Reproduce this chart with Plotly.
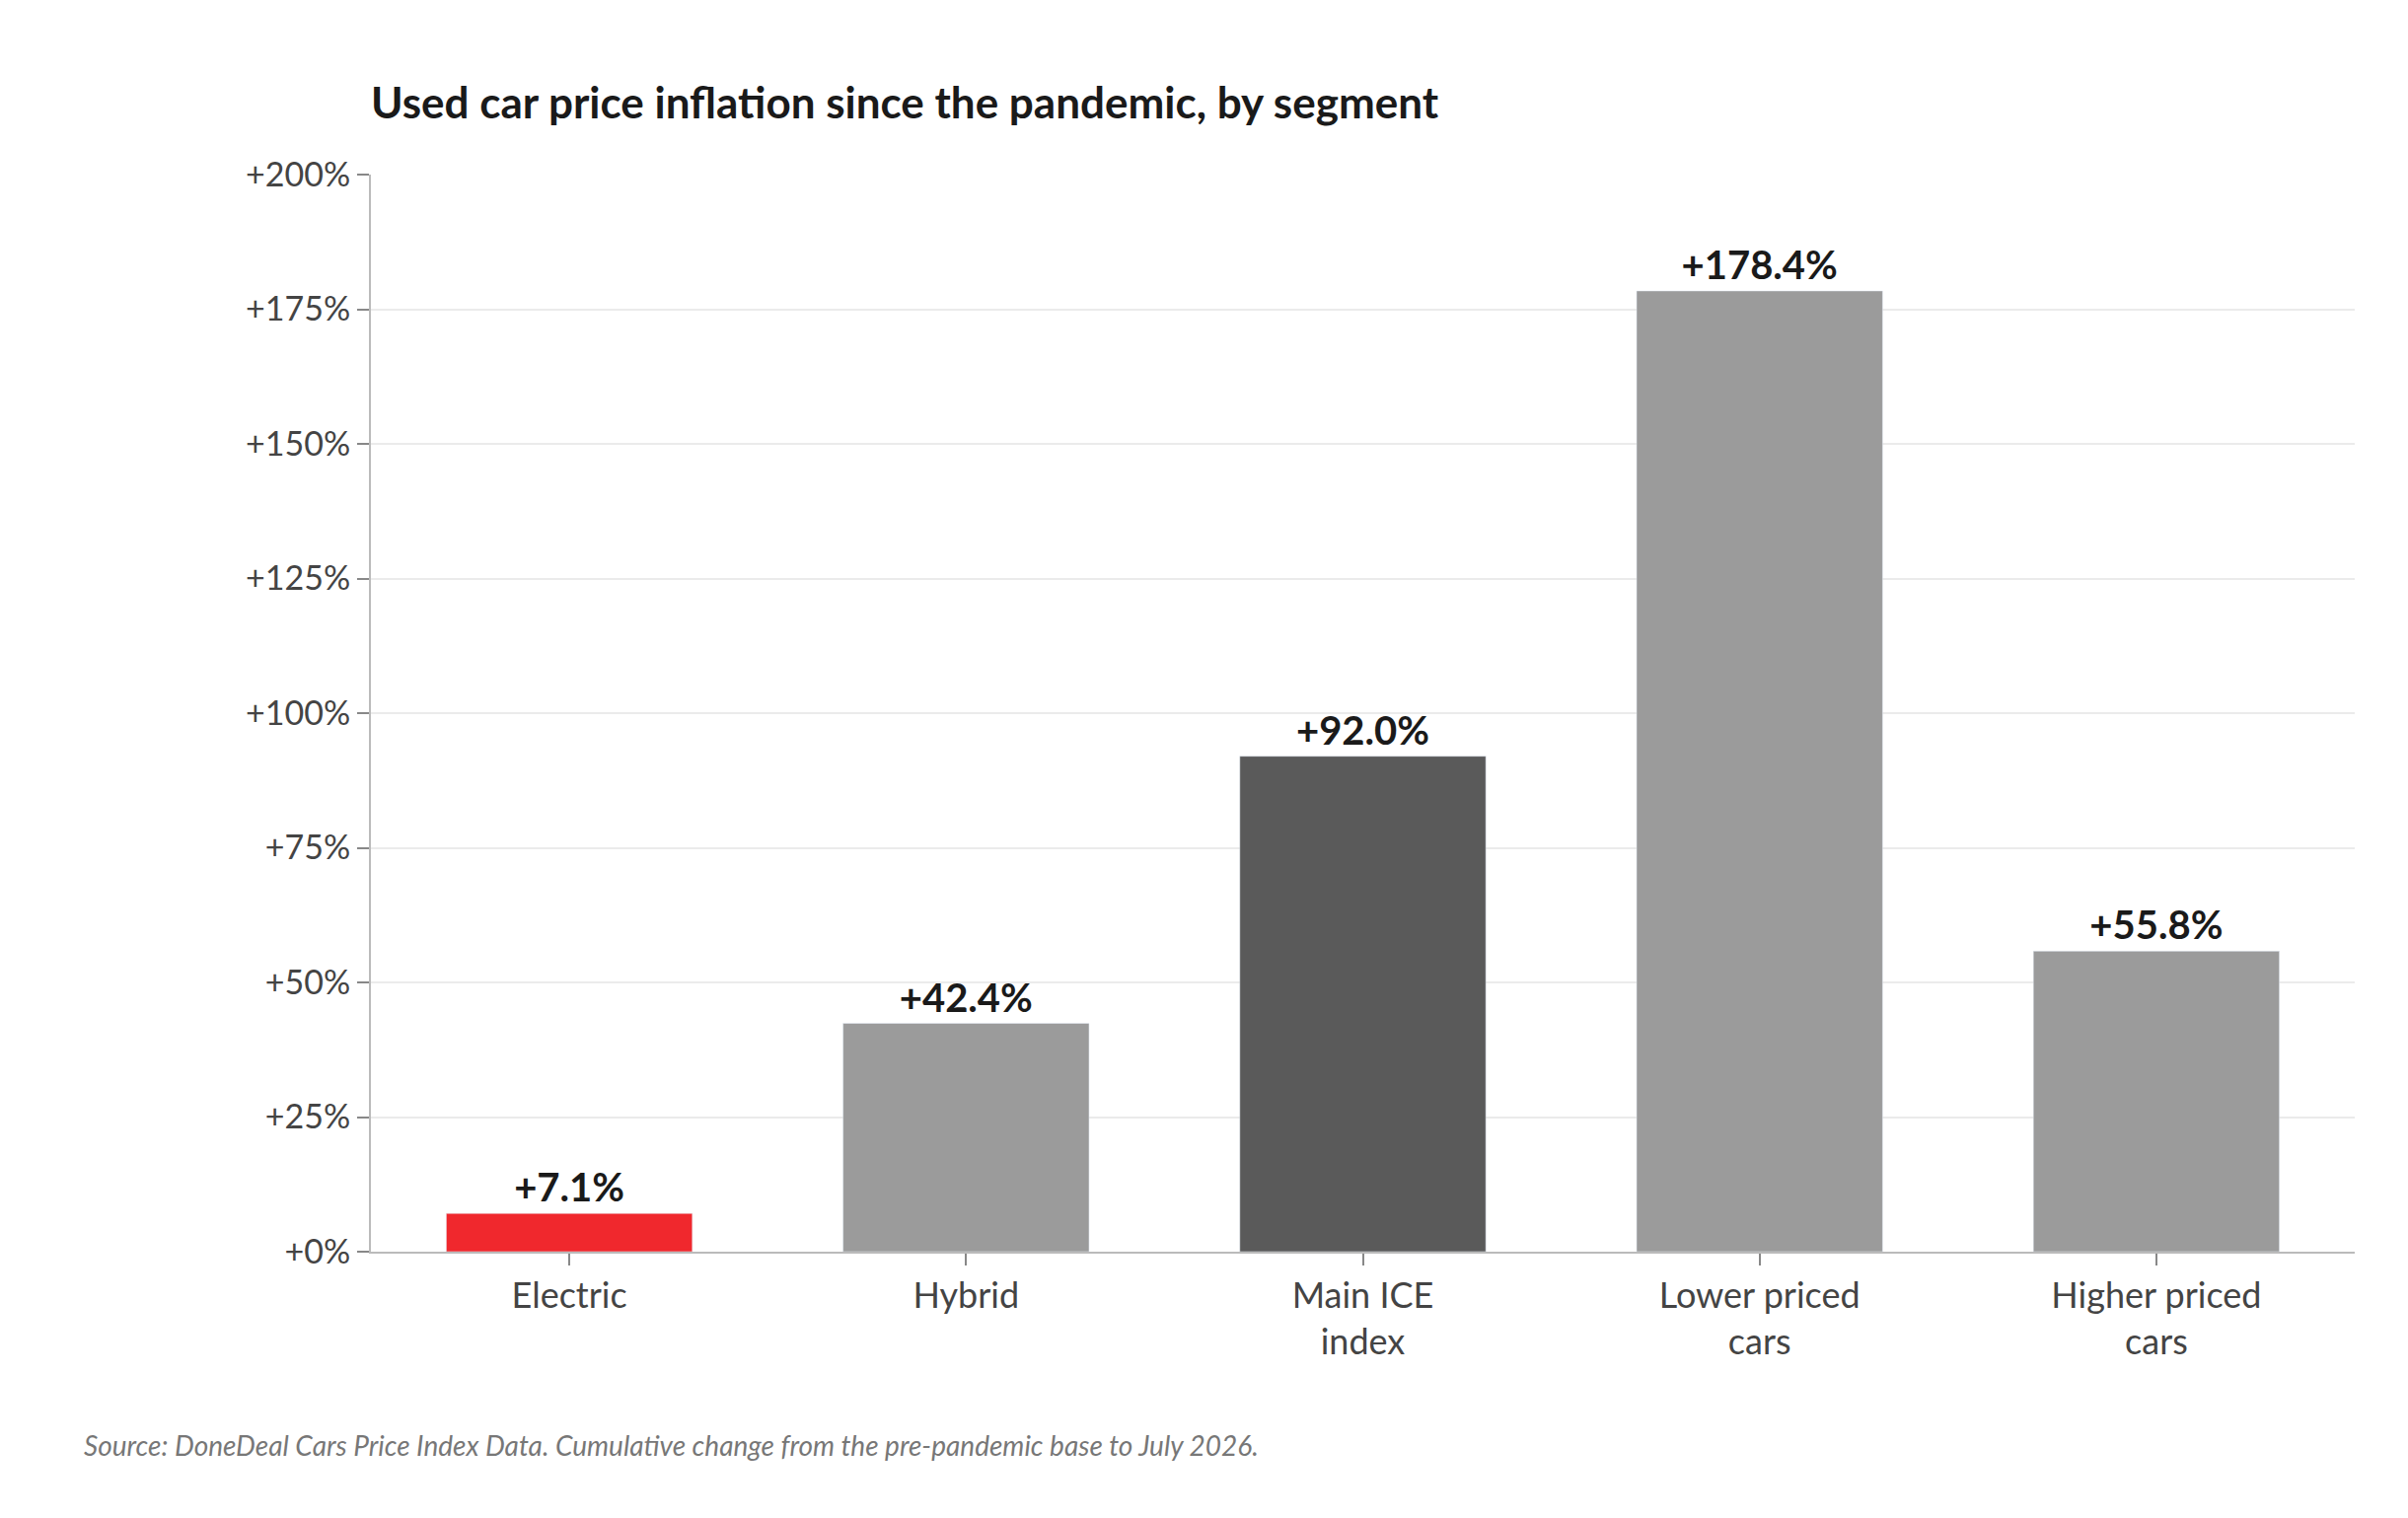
import plotly.graph_objects as go

categories = ["Electric", "Hybrid", "Main ICE<br>index", "Lower priced<br>cars", "Higher priced<br>cars"]
values = [7.1, 42.4, 92.0, 178.4, 55.8]
colors = ["#f0282d", "#9b9b9b", "#5a5a5a", "#9b9b9b", "#9b9b9b"]
tick_vals = [0, 25, 50, 75, 100, 125, 150, 175, 200]
tick_text = ["+%d%%" % v for v in tick_vals]
labels = ["+%.1f%%" % v for v in values]

fig = go.Figure(go.Bar(
    x=categories, y=values, marker_color=colors, width=0.62,
    text=labels, textposition="outside", cliponaxis=False,
    textfont=dict(family="Lato", size=40, color="#1a1a1a", weight="bold"),
))
fig.update_layout(
    width=2441, height=1539,
    margin=dict(l=368, r=62, t=169, b=278),
    plot_bgcolor="white", paper_bgcolor="white",
    font=dict(family="Lato", color="#333"),
    showlegend=False, bargap=0.38,
    title=dict(text="<b>Used car price inflation since the pandemic, by segment</b>",
               x=368/2441, xanchor="left", y=1-97/1539, yanchor="middle",
               font=dict(family="Lato", size=44, color="#1a1a1a")),
    annotations=[dict(text="<i>Source: DoneDeal Cars Price Index Data. Cumulative change from the pre-pandemic base to July 2026.</i>",
                      xref="paper", yref="paper", x=-(368-75)/2009, y=-(1457-1261)/1092,
                      xanchor="left", yanchor="middle", showarrow=False,
                      font=dict(family="Lato", size=28, color="#777"))],
)
fig.update_yaxes(range=[0, 200], tickvals=tick_vals, ticktext=tick_text,
                 tickfont=dict(size=34, color="#444"), showgrid=True, gridcolor="#ebebeb", gridwidth=2,
                 showline=True, linecolor="#bbb", linewidth=2, ticks="outside", ticklen=12,
                 tickcolor="#888", tickwidth=2, zeroline=False)
fig.update_xaxes(tickfont=dict(size=36, color="#444"), showline=True, linecolor="#bbb", linewidth=2,
                 ticks="outside", ticklen=12, tickcolor="#888", tickwidth=2)
fig.write_html("out.html")
